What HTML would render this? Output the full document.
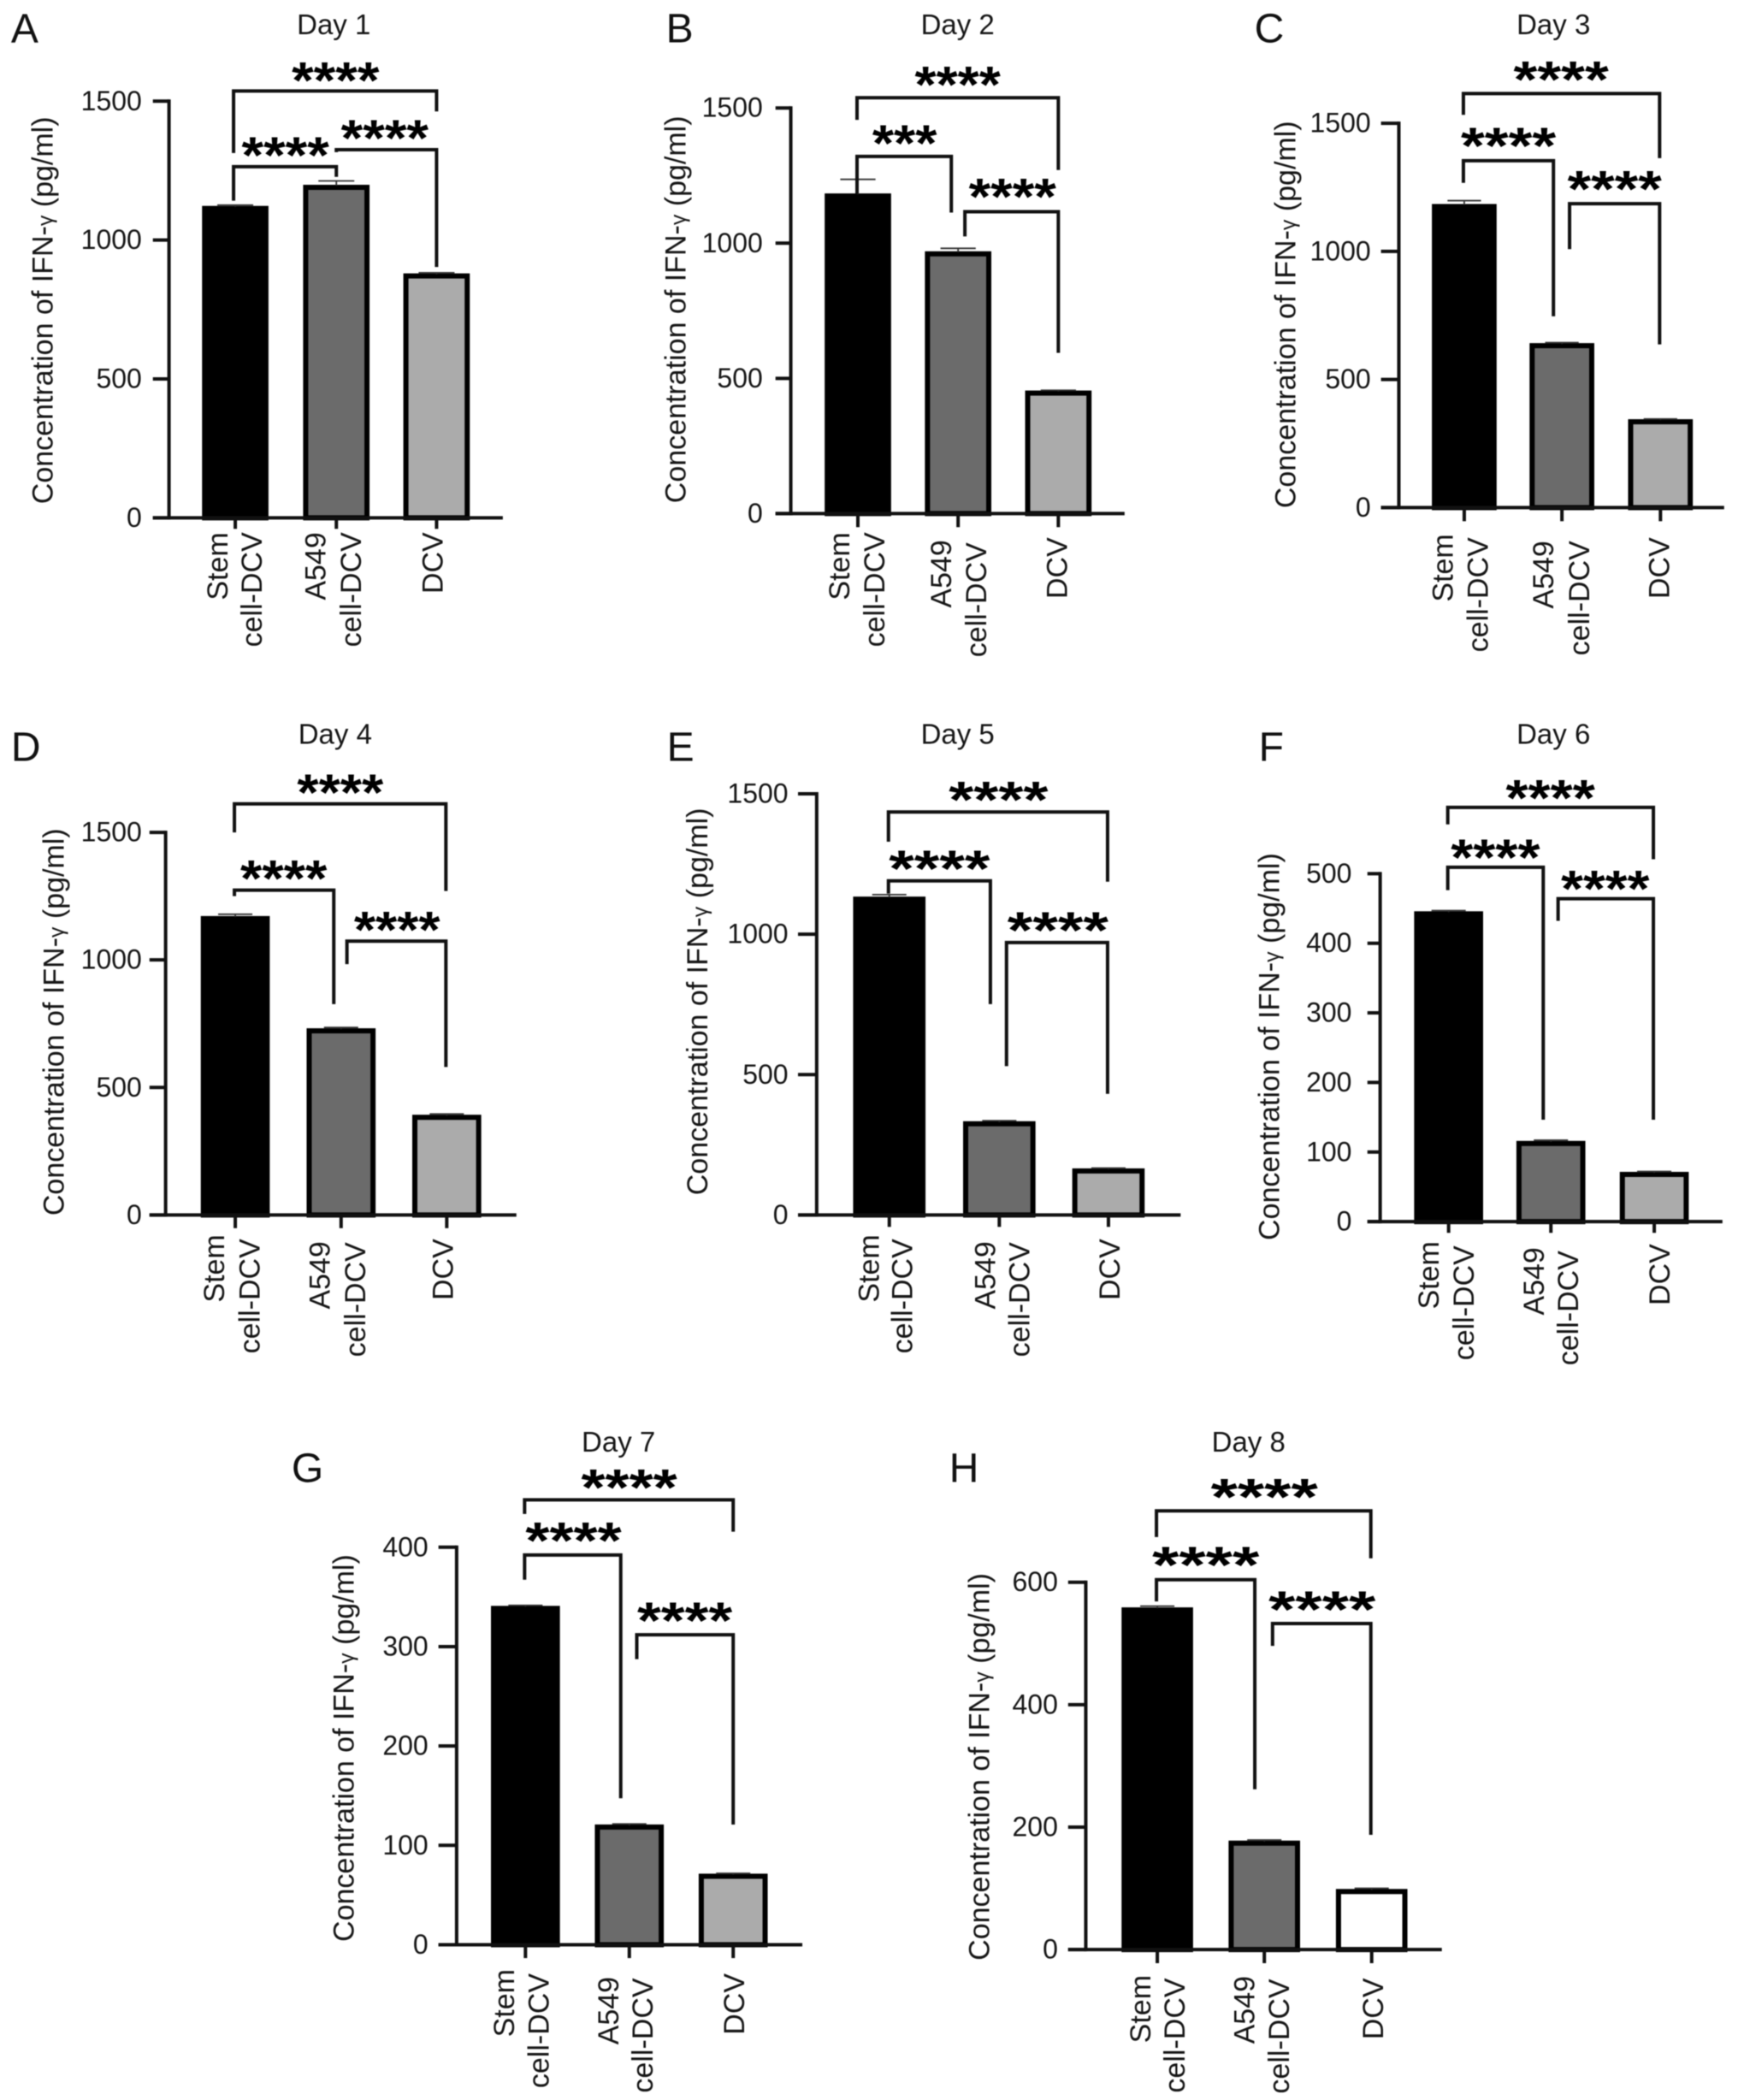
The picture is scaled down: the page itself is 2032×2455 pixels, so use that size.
<!DOCTYPE html>
<html lang="en">
<head>
<meta charset="utf-8">
<title>Concentration of IFN-γ, Days 1-8</title>
<style>
html,body{margin:0;padding:0;background:#fff;}
svg{display:block;font-family:"Liberation Sans",Arial,sans-serif;filter:blur(0.5px);}
</style>
</head>
<body>
<svg id="figure" xmlns="http://www.w3.org/2000/svg" width="2032" height="2455" viewBox="0 0 2032 2455">
<rect width="2032" height="2455" fill="#fff"/>
</svg>
<script>
// ---- chart data ----
const categories = [["Stem", "cell-DCV"], ["A549", "cell-DCV"], ["DCV"]];
const panelLetters = ["A", "B", "C", "D", "E", "F", "G", "H"];
const dayTitles = ["Day 1", "Day 2", "Day 3", "Day 4", "Day 5", "Day 6", "Day 7", "Day 8"];
const yAxisTitle = "Concentration of IFN-";
const yAxisUnit = " (pg/ml)";

const ticksDay1 = [0, 500, 1000, 1500];
const ticksDay2 = [0, 500, 1000, 1500];
const ticksDay3 = [0, 500, 1000, 1500];
const ticksDay4 = [0, 500, 1000, 1500];
const ticksDay5 = [0, 500, 1000, 1500];
const ticksDay6 = [0, 100, 200, 300, 400, 500];
const ticksDay7 = [0, 100, 200, 300, 400];
const ticksDay8 = [0, 200, 400, 600];

const meansDay1 = [1123, 1199, 880];
const meansDay2 = [1184, 970, 455];
const meansDay3 = [1185, 642, 345];
const meansDay4 = [1172, 732, 393];
const meansDay5 = [1134, 334, 166];
const meansDay6 = [446, 116, 71.5];
const meansDay7 = [341, 121, 71.5];
const meansDay8 = [559, 178, 99];

const errorsDay1 = [3, 14, 2];
const errorsDay2 = [52, 11, 1];
const errorsDay3 = [13, 2, 1];
const errorsDay4 = [7, 3, 3];
const errorsDay5 = [7, 2, 1];
const errorsDay6 = [1, 1, 0.5];
const errorsDay7 = [0.5, 0.5, 0.3];
const errorsDay8 = [2, 1, 1];

const significanceDay1 = ["****", "****", "****"];
const significanceDay2 = ["****", "***", "****"];
const significanceDay3 = ["****", "****", "****"];
const significanceDay4 = ["****", "****", "****"];
const significanceDay5 = ["****", "****", "****"];
const significanceDay6 = ["****", "****", "****"];
const significanceDay7 = ["****", "****", "****"];
const significanceDay8 = ["****", "****", "****"];

const allTicks = [ticksDay1, ticksDay2, ticksDay3, ticksDay4, ticksDay5, ticksDay6, ticksDay7, ticksDay8];
const allMeans = [meansDay1, meansDay2, meansDay3, meansDay4, meansDay5, meansDay6, meansDay7, meansDay8];
const allErrors = [errorsDay1, errorsDay2, errorsDay3, errorsDay4, errorsDay5, errorsDay6, errorsDay7, errorsDay8];
const allSignificance = [significanceDay1, significanceDay2, significanceDay3, significanceDay4, significanceDay5, significanceDay6, significanceDay7, significanceDay8];

// ---- page layout (pixels), kept apart from the data ----
const rawLayouts = [
  {ox:0, oy:0, ax:199, tl:180, lbl:167, top:119, base:609, end:592, tb:622, cx:[276,395,513], hw:38.5, capHw:21,
   letter:[13,50], title:[393,40], ytX:62, ytY:365,
   cat:[[268,626],[308,626],[383,626],[425,626],[521,626]],
   br:[[275,514,107,180,131,395,85,103],[275,396,196,236,208,336,173,103],[396,514,176,179,314,453,153,103]]},
  {ox:720, oy:0, ax:926, tl:908, lbl:893, top:127, base:604, end:1319, tb:620, cx:[1004,1122,1240], hw:38.5, capHw:20.6,
   letter:[779,50], title:[1122.5,40], ytX:802, ytY:364,
   cat:[[995,626],[1036,626],[1115,635],[1156,638],[1251,632]],
   br:[[1004,1241,115,141,200,1122.5,90,101],[1004,1115,184,228,250,1060,159,76],[1131,1241,249,278,415,1187,222,103]]},
  {ox:1420, oy:0, ax:1637, tl:1616, lbl:1604, top:145, base:597, end:2020, tb:613, cx:[1713,1828,1944], hw:37.5, capHw:19.6,
   letter:[1467,50], title:[1819,40], ytX:1515, ytY:370,
   cat:[[1700.5,628],[1741.7,632],[1819,636],[1861,636],[1955.5,632]],
   br:[[1713,1944,110,135,186,1828,84,112],[1713,1819,189,215,372,1766,162,112],[1838,1944,239.5,293,405,1891,213,111]]},
  {ox:0, oy:820, ax:195, tl:176, lbl:167, top:974, base:1424, end:608, tb:1439.5, cx:[276,400.6,525], hw:40, capHw:20,
   letter:[13,890], title:[394.6,870], ytX:75, ytY:1197,
   cat:[[264,1447],[305.5,1452],[388,1455],[430,1456],[533,1452]],
   br:[[276,525,940.5,974,1043,400.6,917.4,101.5],[276,393,1042,1049,1176,334,1018.5,102],[408.5,525,1102,1129,1250,467.5,1079,101.5]]},
  {ox:720, oy:820, ax:956.5, tl:934.5, lbl:923, top:928.7, base:1424, end:1385, tb:1438, cx:[1041,1170.5,1299], hw:42, capHw:20,
   letter:[780,890], title:[1122.5,870], ytX:828, ytY:1173,
   cat:[[1029.6,1447],[1069,1452],[1166.5,1455],[1207,1456],[1313,1452]],
   br:[[1041,1299,950,985,1032,1170.5,926,117],[1041,1161,1031,1046,1176,1101,1007,119],[1180,1299,1103.6,1249,1281.5,1240.5,1079.5,119]]},
  {ox:1420, oy:820, ax:1615, tl:1600, lbl:1581.6, top:1022.6, base:1431.8, end:2018, tb:1445, cx:[1694.6,1815,1936.7], hw:40, capHw:20,
   letter:[1472,890], title:[1819,870], ytX:1496, ytY:1226,
   cat:[[1683.6,1455],[1725,1460],[1807.6,1462],[1848,1466],[1955.5,1458]],
   br:[[1694.6,1936.7,944.6,964.6,1005.6,1815.4,924,105],[1694.6,1807,1015,1042,1312,1750.7,994,105],[1824.5,1936.7,1052,1078,1312,1880,1031,104]]},
  {ox:320, oy:1640, ax:535.4, tl:514, lbl:502, top:1809.8, base:2277.3, end:942.4, tb:2293, cx:[615.4,737.7,860], hw:40, capHw:20,
   letter:[341,1733], title:[726,1697.5], ytX:414, ytY:2046,
   cat:[[603,2306],[644,2311],[726,2315],[766,2316.5],[874,2311]],
   br:[[615.4,861,1754,1770.6,1791.5,738.5,1730,113],[615.4,728.6,1819,1848,2105,673,1792.5,113],[747.5,861,1912.7,1941.4,2136,804,1886.6,112]]},
  {ox:1080, oy:1640, ax:1270.8, tl:1250, lbl:1238, top:1851, base:2283, end:1690, tb:2299, cx:[1354,1480,1606.4], hw:41.5, capHw:20,
   letter:[1110,1733], title:[1462.4,1697.5], ytX:1157, ytY:2068,
   cat:[[1346.7,2313],[1387,2316.5],[1469,2314],[1510,2317.5],[1621,2316.5]],
   br:[[1354,1606.4,1767,1797.8,1822.8,1481,1741,126],[1354,1469.8,1848,1873.5,2094.5,1412,1821,126],[1490.7,1606.4,1899.6,1925.8,2148,1549,1873.5,126]]}
];
const calX = 0.993;
const calY = 0.994;
const barShift = 1;
const panelLayouts = rawLayouts.map(function (r) {
  const X = function (v) { return r.ox + (v - r.ox) * calX; };
  const Y = function (v) { return r.oy + (v - r.oy) * calY; };
  return {
    ax: X(r.ax), tl: X(r.tl), lbl: X(r.lbl), end: X(r.end), top: Y(r.top), base: Y(r.base), tb: Y(r.tb),
    cx: r.cx.map(X), hw: r.hw * calX + 0.6, capHw: r.capHw,
    letter: [X(r.letter[0]), Y(r.letter[1])], title: [X(r.title[0]), Y(r.title[1])],
    ytX: X(r.ytX), ytY: Y(r.ytY),
    cat: r.cat.map(function (c) { return [X(c[0]), Y(c[1])]; }),
    br: r.br.map(function (b) { return [X(b[0]), X(b[1]), Y(b[2]), Y(b[3]), Y(b[4]), X(b[5]), Y(b[6]), b[7] * calX]; })
  };
});
const barFills = ["#000000", "#6b6b6b", "#ababab"];
const lastPanelBarFills = ["#000000", "#6b6b6b", "#ffffff"];

// ---- drawing ----
const NS = "http://www.w3.org/2000/svg";
const root = document.getElementById("figure");
const INK = "#161616";
const STAR_FONT = 60;
const STAR_ADVANCE = 60 * 0.389;

function mk(tag, parent, attrs) {
  const el = document.createElementNS(NS, tag);
  for (const k in attrs) el.setAttribute(k, attrs[k]);
  parent.appendChild(el);
  return el;
}

function drawPanel(p) {
  const L = panelLayouts[p];
  const ticks = allTicks[p];
  const means = allMeans[p];
  const errors = allErrors[p];
  const sig = allSignificance[p];
  const yMax = ticks[ticks.length - 1];
  const yScale = function (v) { return L.base - (v / yMax) * (L.base - L.top); };
  const xScale = function (i) { return L.cx[i]; };
  const fills = p === 7 ? lastPanelBarFills : barFills;

  const g = mk("g", root, {});
  
  

  const letter = mk("text", g, {x: L.letter[0], y: L.letter[1], "font-size": 48, fill: "#111"});
  
  
  letter.textContent = panelLetters[p];

  const title = mk("text", g, {x: L.title[0], y: L.title[1], "font-size": 33, fill: INK, "text-anchor": "middle"});
  
  
  title.textContent = dayTitles[p];

  const yTitle = mk("text", g, {x: L.ytX, y: L.ytY, "font-size": 34, fill: INK, "text-anchor": "middle",
    transform: "rotate(-90 " + L.ytX + " " + L.ytY + ")"});
  
  
  yTitle.appendChild(document.createTextNode(yAxisTitle));
  const gamma = mk("tspan", yTitle, {"font-size": 25});
  
  
  gamma.textContent = "γ";
  yTitle.appendChild(document.createTextNode(yAxisUnit));

  // bars first so that axes lie over them
  means.forEach(function (v, i) {
    const sw = 6;
    const top = yScale(v);
    const bar = mk("rect", g, {x: xScale(i) + barShift - L.hw + sw / 2, y: top + sw / 2, width: 2 * L.hw - sw,
      height: Math.max(0, L.base - top - sw / 2), fill: fills[i], stroke: "#000", "stroke-width": sw});
    
    

    const eTop = yScale(v + errors[i]);
    const stem = mk("line", g, {x1: xScale(i) + barShift, x2: xScale(i) + barShift, y1: top + 1, y2: eTop, stroke: "#333", "stroke-width": 1.8});
    
    
    const cap = mk("line", g, {x1: xScale(i) + barShift - L.capHw, x2: xScale(i) + barShift + L.capHw, y1: eTop, y2: eTop, stroke: "#333", "stroke-width": 1.8});
    
    
  });

  const yAxis = mk("line", g, {x1: L.ax, x2: L.ax, y1: L.top - 2, y2: L.base + 2, stroke: "#111", "stroke-width": 4});
  
  
  const xAxis = mk("line", g, {x1: L.tl, x2: L.end, y1: L.base, y2: L.base, stroke: "#111", "stroke-width": 4});
  
  

  ticks.forEach(function (t) {
    const tick = mk("line", g, {x1: L.tl, x2: L.ax, y1: yScale(t), y2: yScale(t), stroke: "#111", "stroke-width": 4});
    
    
    const lab = mk("text", g, {x: L.lbl, y: yScale(t) + 10.5, "font-size": 32, fill: INK, "text-anchor": "end"});
    
    
    lab.textContent = String(t);
  });

  let line = 0;
  categories.forEach(function (cat, i) {
    const tick = mk("line", g, {x1: xScale(i) + barShift, x2: xScale(i) + barShift, y1: L.base, y2: L.tb, stroke: "#111", "stroke-width": 4});
    
    
    cat.forEach(function (part) {
      const pos = L.cat[line++];
      const lab = mk("text", g, {x: pos[0], y: pos[1], "font-size": 34, fill: INK, "text-anchor": "end",
        transform: "rotate(-90 " + pos[0] + " " + pos[1] + ")"});
      
      
      lab.textContent = part;
    });
  });

  L.br.forEach(function (b, i) {
    const path = mk("path", g, {d: "M" + b[0] + " " + b[3] + "V" + b[2] + "H" + b[1] + "V" + b[4],
      fill: "none", stroke: "#111", "stroke-width": 4});
    
    
    const n = sig[i].length;
    const sx = b[7] / (n * STAR_ADVANCE);
    const stars = mk("text", g, {x: 0, y: 30, "font-size": STAR_FONT, "font-weight": 700, fill: "#000", "text-anchor": "middle",
      transform: "translate(" + b[5] + " " + b[6] + ") scale(" + sx + " 1)"});
    
    
    stars.textContent = sig[i];
  });
}

panelLayouts.forEach(function (_, p) { drawPanel(p); });
</script>
</body>
</html>
